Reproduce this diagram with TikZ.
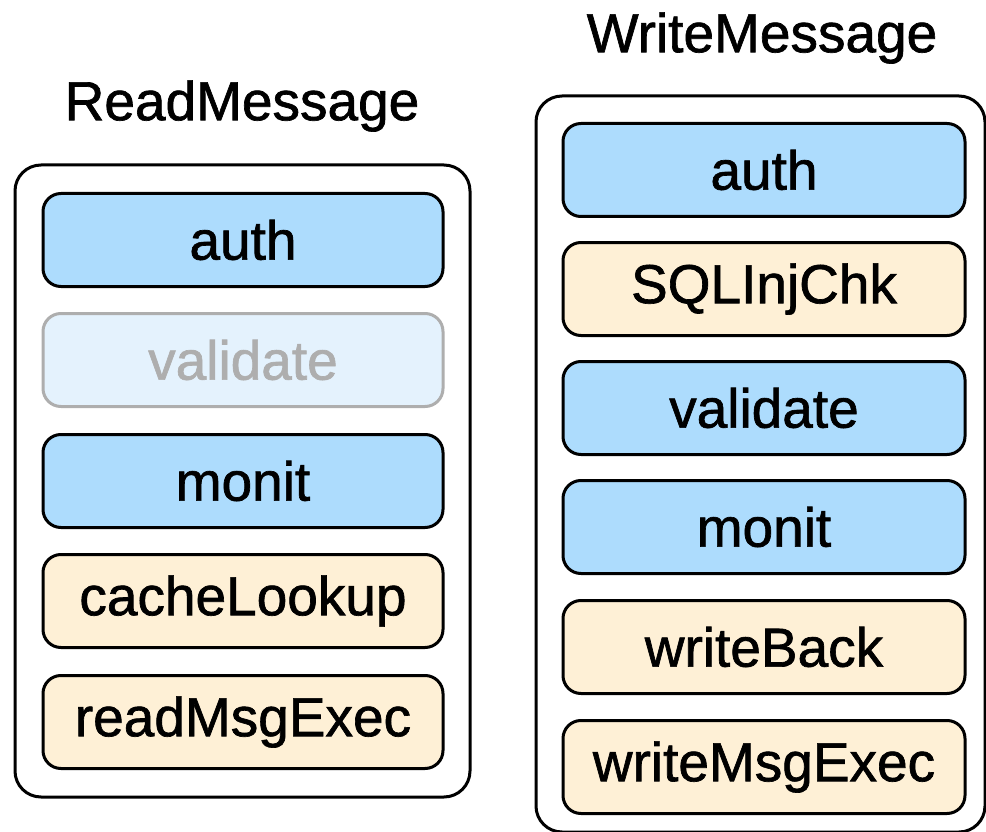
\documentclass[tikz,border=0pt]{standalone}
\usepackage{fontspec}
\setmainfont[FakeBold=1.2]{Liberation Sans}
\definecolor{stageblue}{HTML}{ADDCFD}
\definecolor{stagetan}{HTML}{FEF0D6}
\definecolor{skipfill}{HTML}{E4F2FD}
\definecolor{skipgray}{HTML}{AEAEAE}
\begin{document}
\begin{tikzpicture}[x=1pt,y=-1pt,
  lbl/.style={font=\fontsize{55}{60}\selectfont, inner sep=0pt},
  stage/.style={draw=black, line width=3pt, rounded corners=18pt, minimum width=400pt, minimum height=93pt, inner sep=0pt, font=\fontsize{55}{60}\selectfont},
  bluestage/.style={stage, fill=stageblue},
  tanstage/.style={stage, fill=stagetan},
  skipstage/.style={stage, fill=skipfill, draw=skipgray, text=skipgray},
  group/.style={draw=black, line width=3pt, rounded corners=26pt, inner sep=0pt}]
\useasboundingbox (0,0) rectangle (986,832);

% ReadMessage pipeline
\node[lbl] (rtitle) at (242,106) {ReadMessage};
\node[group, minimum width=455pt, minimum height=632pt] (rgroup) at (242.5,481) {};
\node[bluestage] (rauth) at (243,240) {auth};
\node[skipstage] (rvalid) at (243,360) {validate};
\node[bluestage] (rmonit) at (243,481) {monit};
\node[tanstage] (rcache) at (243,601) {cacheLookup};
\node[tanstage] (rexec) at (243,722) {readMsgExec};

% WriteMessage pipeline
\node[lbl] (wtitle) at (762,38) {WriteMessage};
\node[group, minimum width=449pt, minimum height=736pt] (wgroup) at (760.5,464) {};
\node[bluestage, minimum width=402pt] (wauth) at (764,170) {auth};
\node[tanstage, minimum width=402pt] (wsql) at (764,289) {SQLInjChk};
\node[bluestage, minimum width=402pt] (wvalid) at (764,408) {validate};
\node[bluestage, minimum width=402pt] (wmonit) at (764,527) {monit};
\node[tanstage, minimum width=402pt] (wback) at (764,647) {writeBack};
\node[tanstage, minimum width=402pt] (wexec) at (764,767) {writeMsgExec};
\end{tikzpicture}
\end{document}
